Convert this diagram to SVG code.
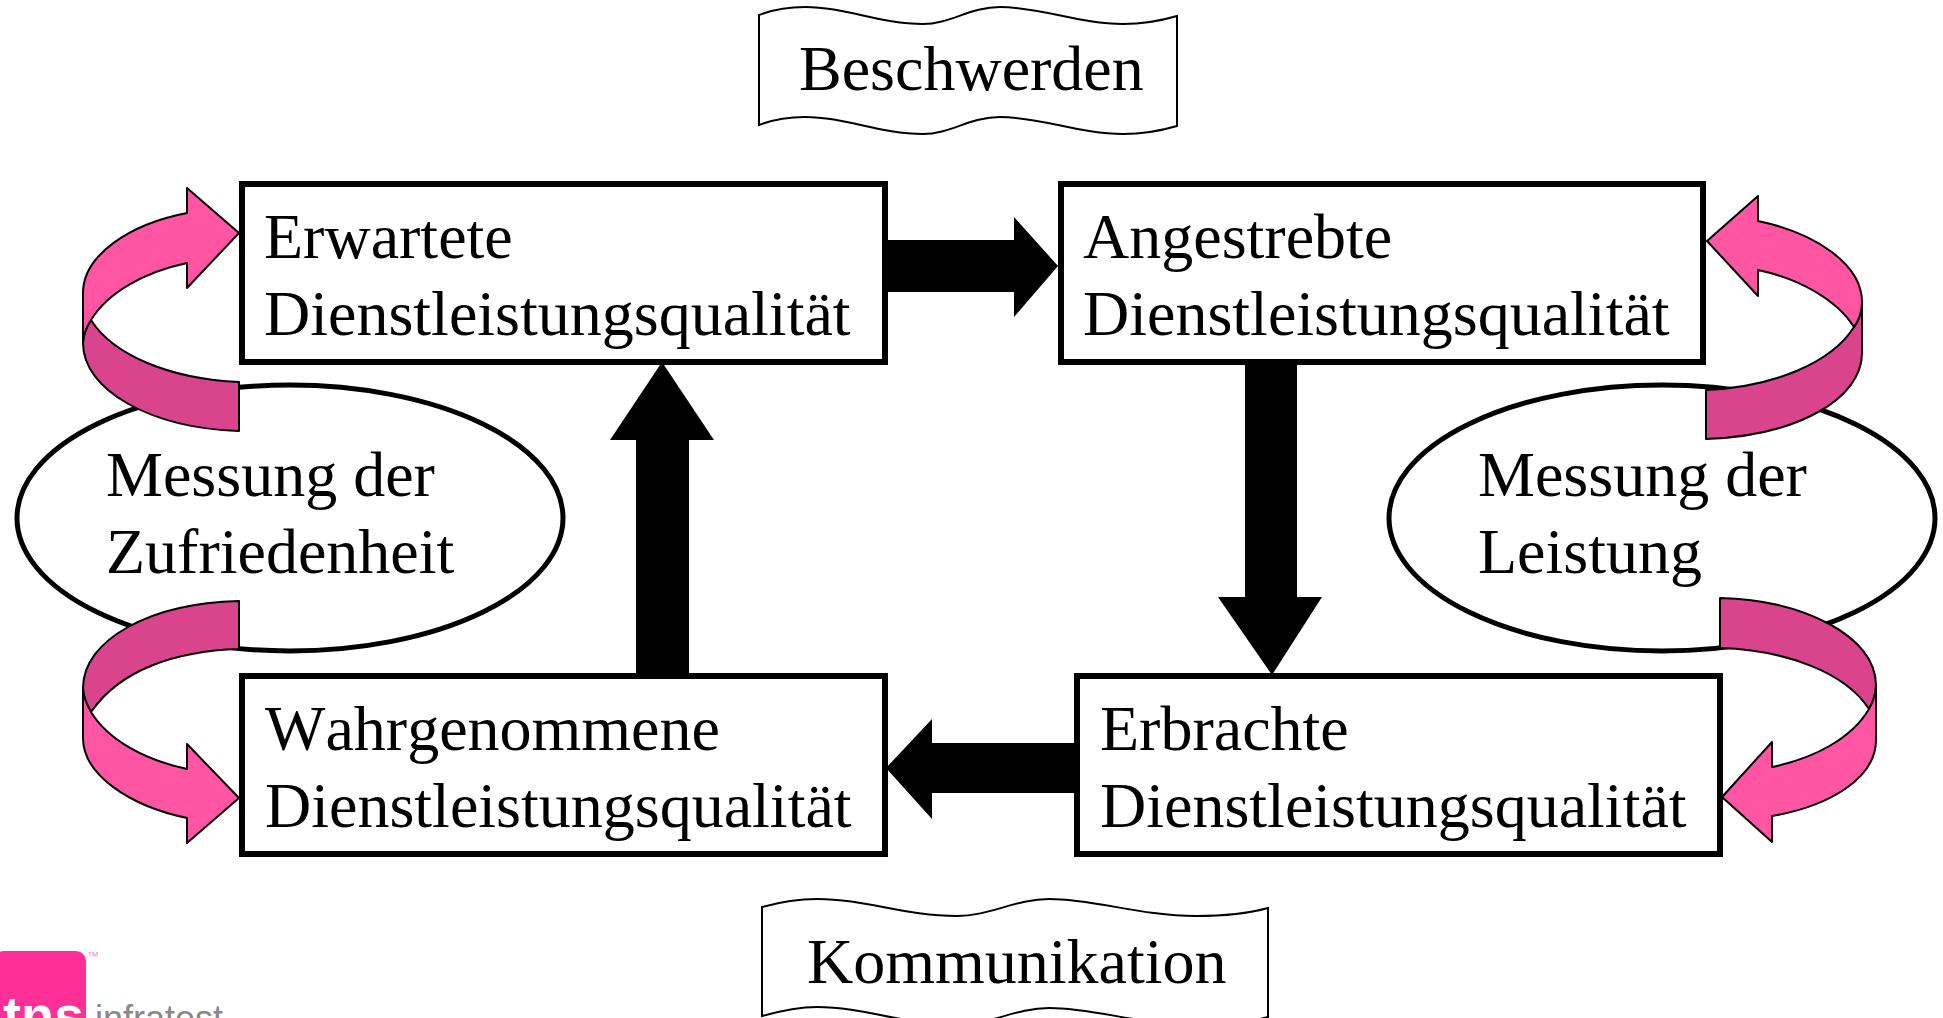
<svg xmlns="http://www.w3.org/2000/svg" width="1943" height="1018" viewBox="0 0 1943 1018">
<style>
text{font-family:"Liberation Serif","Times New Roman",serif;font-size:64px;fill:#000}
.box{fill:#fff;stroke:#000;stroke-width:6}
.ell{fill:#fff;stroke:#000;stroke-width:5}
.wave{fill:#fff;stroke:#000;stroke-width:2}
.l{fill:#ff55a3;stroke:#000;stroke-width:2;stroke-linejoin:round}
.d{fill:#d9448c;stroke:#000;stroke-width:2;stroke-linejoin:round}
.blk{fill:#000}
text.s{font-family:"Liberation Sans",Arial,sans-serif}
</style>
<rect width="1943" height="1018" fill="#fff"/>
<g id="banner-beschwerden">
<path class="wave" d="M759,15 C772,10 785,7 805,7 C845,7 880,24 923,24 C950,24 970,7 1000,7 C1040,7 1080,24 1123,24 C1143,24 1160,21 1177,16 V126 C1160,131 1143,134 1123,134 C1080,134 1040,117 1000,117 C970,117 950,134 923,134 C880,134 845,117 805,117 C785,117 772,120 759,125 Z"/>
<text x="799" y="90">Beschwerden</text>
</g>
<g id="banner-kommunikation">
<path class="wave" d="M762,907 C780,902 797,899 817,899 C865,899 905,916 957,916 C990,916 1015,899 1049,899 C1095,899 1140,916 1196,916 C1225,916 1250,913 1268,908 V1017 C1250,1022 1225,1025 1196,1025 C1140,1025 1095,1008 1049,1008 C1015,1008 990,1025 957,1025 C905,1025 865,1007 817,1007 C797,1007 780,1011 762,1016 Z"/>
<text x="807" y="983">Kommunikation</text>
</g>
<g id="ellipse-zufriedenheit">
<ellipse class="ell" cx="290" cy="518" rx="273" ry="133"/>
<text x="106" y="496">Messung der</text>
<text x="106" y="573">Zufriedenheit</text>
</g>
<g id="ellipse-leistung">
<ellipse class="ell" cx="1662" cy="518" rx="273" ry="133"/>
<text x="1478" y="496">Messung der</text>
<text x="1478" y="573">Leistung</text>
</g>
<g id="connectors">
<path class="blk" d="M887,240 H1014 V217 L1058,266 L1014,317 V292 H887 Z"/>
<path class="blk" d="M1245,364 H1297 V597 H1322 L1272,675 L1218,597 H1245 Z"/>
<path class="blk" d="M1075,743 H932 V719 L886,768 L932,819 V793 H1075 Z"/>
<path class="blk" d="M636,675 V440 H610 L662,362 L714,440 H689 V675 Z"/>
<g id="curved-top-left">
<path class="d" d="M91,320 C113,355 170,379 239,382 V431 C150,428 83,390 83,343 C83,335 86,328 91,320 Z"/>
<path class="l" d="M239,233 L187,188 V213 C130,224 83,255 83,293 V343 C83,335 86,328 91,320 C108,292 145,272 187,263 V288 Z"/>
</g>
<g id="curved-bottom-left">
<path class="d" d="M239,601 C150,603 83,640 83,688 C83,697 87,705 91,712 C120,670 175,651 239,649 Z"/>
<path class="l" d="M83,688 C83,697 87,705 91,712 C108,740 145,760 187,769 V744 L239,798 L187,843 V818 C130,806 83,775 83,738 Z"/>
</g>
<g id="curved-top-right">
<path class="d" d="M1854,327 C1832,362 1775,387 1706,390 V439 C1795,436 1862,400 1862,353 V302 C1862,312 1859,320 1854,327 Z"/>
<path class="l" d="M1707,241 L1758,196 V221 C1815,233 1862,264 1862,302 C1862,312 1859,320 1854,327 C1837,300 1800,279 1758,270 V296 Z"/>
</g>
<g id="curved-bottom-right">
<path class="d" d="M1720,598 C1805,600 1876,637 1876,685 C1876,694 1873,702 1869,709 C1845,672 1785,650 1720,648 Z"/>
<path class="l" d="M1876,685 V740 C1876,778 1830,806 1772,816 V842 L1722,797 L1772,742 V767 C1815,758 1852,738 1869,709 C1873,702 1876,694 1876,685 Z"/>
</g>
</g>
<g id="box-erwartete">
<rect class="box" x="242" y="184" width="643" height="178"/>
<text x="264" y="258">Erwartete</text>
<text x="264" y="335">Dienstleistungsqualität</text>
</g>
<g id="box-angestrebte">
<rect class="box" x="1061" y="184" width="642" height="178"/>
<text x="1083" y="258">Angestrebte</text>
<text x="1083" y="335">Dienstleistungsqualität</text>
</g>
<g id="box-wahrgenommene">
<rect class="box" x="242" y="676" width="643" height="178"/>
<text x="265" y="750" style="font-kerning:none">Wahrgenommene</text>
<text x="265" y="827">Dienstleistungsqualität</text>
</g>
<g id="box-erbrachte">
<rect class="box" x="1077" y="676" width="643" height="178"/>
<text x="1100" y="750">Erbrachte</text>
<text x="1100" y="827">Dienstleistungsqualität</text>
</g>
<g id="logo">
<rect x="-6" y="951" width="92" height="90" rx="10" fill="#ff2f98"/>
<text class="s" x="87" y="960" style="font-size:12px;fill:#ff8cc4">™</text>
<text class="s" x="3" y="1034" style="font-size:54px;font-weight:700;fill:#fff">tns</text>
<text class="s" x="95" y="1031" style="font-size:36px;fill:#888">infratest</text>
</g>
</svg>
